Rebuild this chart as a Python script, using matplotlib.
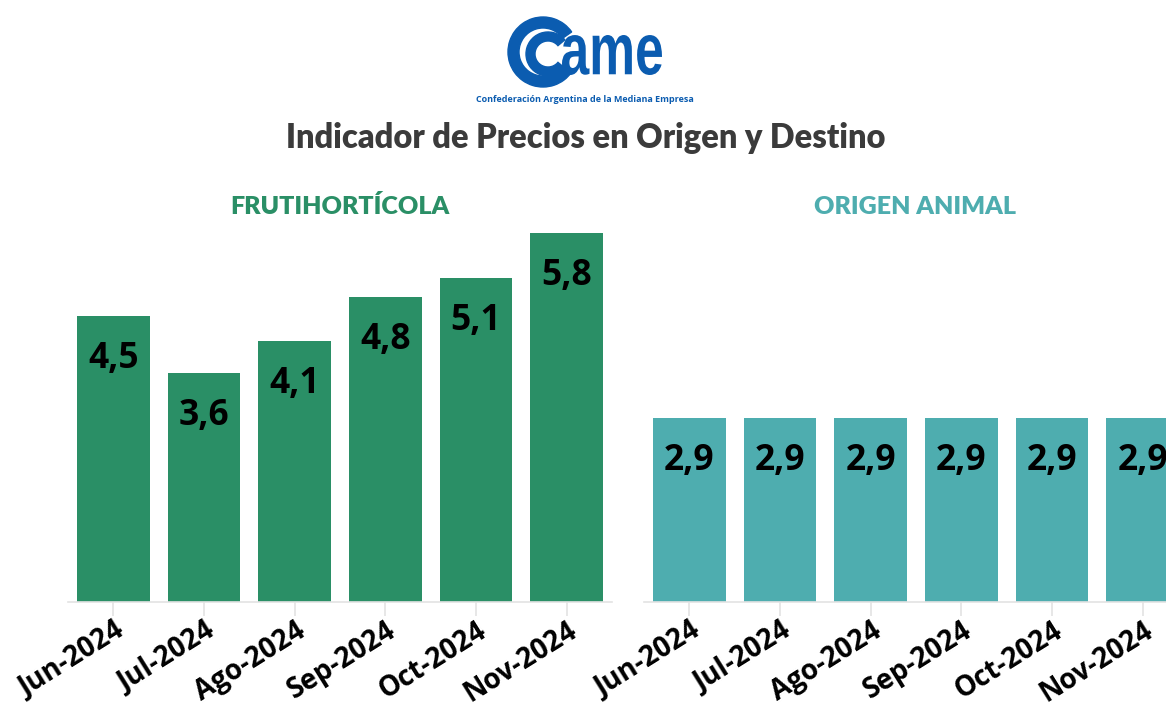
import matplotlib.pyplot as plt
from matplotlib.patches import Wedge, PathPatch
from matplotlib.textpath import TextPath
from matplotlib.font_manager import FontProperties
from matplotlib.transforms import Affine2D, ScaledTranslation

months = ['Jun-2024', 'Jul-2024', 'Ago-2024', 'Sep-2024', 'Oct-2024', 'Nov-2024']
frutihorticola = [4.5, 3.6, 4.1, 4.8, 5.1, 5.8]
origen_animal = [2.9, 2.9, 2.9, 2.9, 2.9, 2.9]

GREEN = '#2a8f66'
TEAL = '#4eadaf'
W, H = 1166, 704

fig = plt.figure(figsize=(W / 100, H / 100), dpi=100)
fig.patch.set_facecolor('white')


def panel(left_px, values, color):
    ax = fig.add_axes([left_px / W, (H - 602) / H, 544 / W, 6.0 * 63.6 / H])
    x = range(len(values))
    bars = ax.bar(x, values, width=0.8, color=color, zorder=2)
    ax.set_xlim(-0.5, len(values) - 0.5)
    ax.set_ylim(0, 6.0)
    for b, v in zip(bars, values):
        ax.text(b.get_x() + b.get_width() / 2, v - 0.68, f'{v:.1f}'.replace('.', ','),
                ha='center', va='center', fontsize=25.5, fontweight='bold',
                family='Open Sans', color='black')
    for s in ['top', 'right', 'left']:
        ax.spines[s].set_visible(False)
    ax.spines['bottom'].set_color('#e3e3e3')
    ax.spines['bottom'].set_linewidth(1.2)
    ax.set_yticks([])
    ax.set_xticks(list(x))
    ax.set_xticklabels(months, rotation=32, ha='right', va='center',
                       rotation_mode='anchor', fontsize=20, fontweight='bold',
                       family='Open Sans', color='black')
    ax.tick_params(axis='x', length=10, color='#e3e3e3', width=1.2, pad=9)
    shift = ScaledTranslation(0.08, 0, fig.dpi_scale_trans)
    for lab in ax.get_xticklabels():
        lab.set_transform(lab.get_transform() + shift)
    return ax


panel(68, frutihorticola, GREEN)
panel(644, origen_animal, TEAL)

# titles
fig.text(586 / W, 1 - 138 / H, 'Indicador de Precios en Origen y Destino',
         ha='center', va='center', fontsize=23.5, fontweight='heavy',
         family='Lato', color='#3b3b3b')
fig.text(340 / W, 1 - 207 / H, 'FRUTIHORTÍCOLA', ha='center', va='center',
         fontsize=18, fontweight='heavy', family='Lato', color=GREEN)
fig.text(915 / W, 1 - 207 / H, 'ORIGEN ANIMAL', ha='center', va='center',
         fontsize=18, fontweight='heavy', family='Lato', color=TEAL)

# logo
lax = fig.add_axes([0, 0, 1, 1], zorder=-1)
lax.set_xlim(0, W)
lax.set_ylim(H, 0)
lax.axis('off')
BLUE = '#0b5cb0'
lax.add_patch(Wedge((543, 52), 35, 35, 325, width=11, color=BLUE))
lax.add_patch(Wedge((548, 54), 22, 40, 320, width=9, color=BLUE))
tp = TextPath((0, 0), 'ame', size=100, prop=FontProperties(family='Liberation Sans', weight='bold'))
bb = tp.get_extents()
sx = (662 - 562) / bb.width
sy = (75 - 35) / bb.height
tr = Affine2D().translate(-bb.x0, -bb.y0).scale(sx, -sy).translate(562, 75)
lax.add_patch(PathPatch(tr.transform_path(tp), color=BLUE, lw=0))
lax.text(585, 99, 'Confederación Argentina de la Mediana Empresa', ha='center', va='center',
         fontsize=6.5, fontweight='bold', family='Open Sans', color=BLUE)

fig.savefig('out.png', dpi=100, facecolor='white')
